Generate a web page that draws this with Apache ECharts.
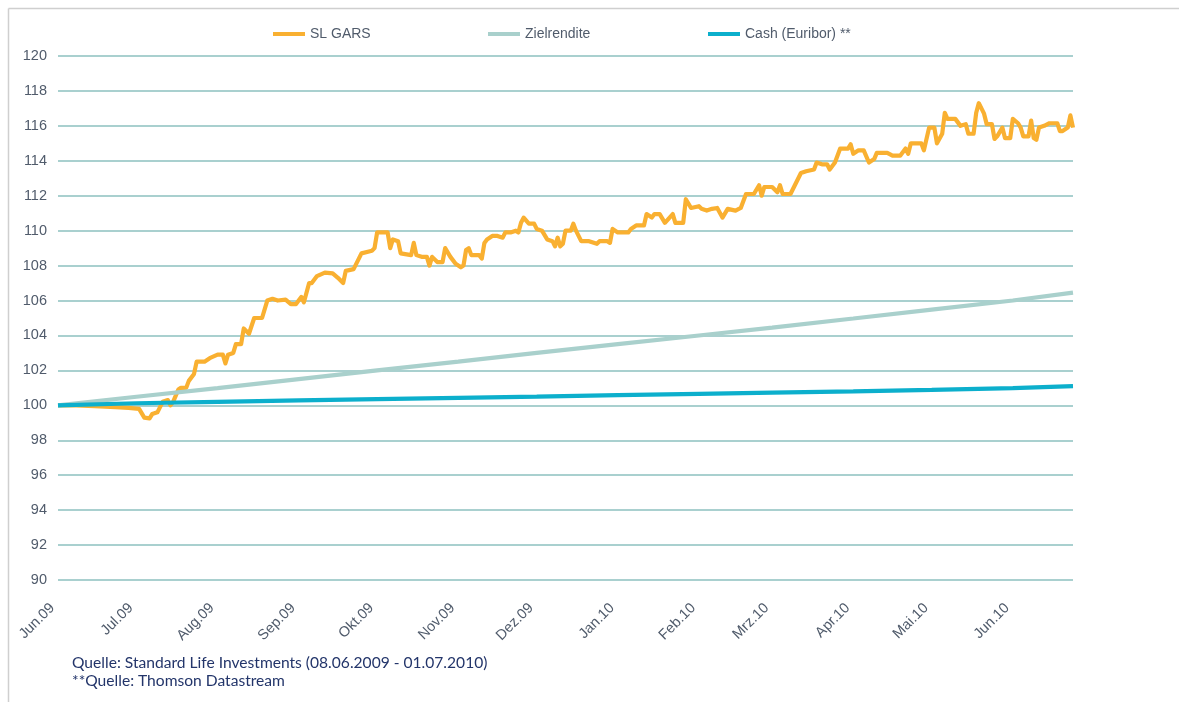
<!DOCTYPE html>
<html>
<head>
<meta charset="utf-8">
<title>SL GARS</title>
<script src="https://cdn.jsdelivr.net/npm/echarts@6/dist/echarts.min.js"></script>
<style>
  html, body { margin: 0; padding: 0; background: #ffffff; }
  #chart { width: 1179px; height: 702px; }
</style>
</head>
<body>
<div id="chart"></div>
<script>
// Indexentwicklung ab 08.06.2009 (=100)
const startDate = '2009-06-08';
const endDate = '2010-07-01';

// Achsenbeschriftung: jeweils am 8. des Monats
const monthTicks = ['2009-06-08','2009-07-08','2009-08-08','2009-09-08','2009-10-08','2009-11-08','2009-12-08',
  '2010-01-08','2010-02-08','2010-03-08','2010-04-08','2010-05-08','2010-06-08'];
const monthLabels = ['Jun.09','Jul.09','Aug.09','Sep.09','Okt.09','Nov.09','Dez.09',
  'Jan.10','Feb.10','Mrz.10','Apr.10','Mai.10','Jun.10'];

const yTicks = [90, 92, 94, 96, 98, 100, 102, 104, 106, 108, 110, 112, 114, 116, 118, 120];

const seriesNames = ['SL GARS', 'Zielrendite', 'Cash (Euribor) **'];

// SL GARS
const garsDates = [
  '2009-06-08','2009-06-15','2009-06-22','2009-06-30','2009-07-05','2009-07-09','2009-07-11','2009-07-13','2009-07-14','2009-07-16',
  '2009-07-18','2009-07-20','2009-07-21','2009-07-22','2009-07-24','2009-07-25','2009-07-27','2009-07-28','2009-07-30','2009-07-31',
  '2009-08-03','2009-08-05','2009-08-08','2009-08-10','2009-08-11','2009-08-12','2009-08-14','2009-08-15','2009-08-17','2009-08-18',
  '2009-08-20','2009-08-22','2009-08-25','2009-08-27','2009-08-29','2009-08-31','2009-09-03','2009-09-05','2009-09-07','2009-09-09',
  '2009-09-10','2009-09-12','2009-09-13','2009-09-15','2009-09-18','2009-09-21','2009-09-23','2009-09-25','2009-09-26','2009-09-29',
  '2009-10-02','2009-10-06','2009-10-07','2009-10-08','2009-10-12','2009-10-13','2009-10-14','2009-10-16','2009-10-17','2009-10-21',
  '2009-10-22','2009-10-23','2009-10-25','2009-10-27','2009-10-28','2009-10-29','2009-10-31','2009-11-02','2009-11-03','2009-11-05',
  '2009-11-07','2009-11-09','2009-11-10','2009-11-11','2009-11-12','2009-11-13','2009-11-16','2009-11-17','2009-11-18','2009-11-19',
  '2009-11-21','2009-11-23','2009-11-25','2009-11-26','2009-11-28','2009-11-30','2009-12-01','2009-12-02','2009-12-03','2009-12-05',
  '2009-12-07','2009-12-08','2009-12-10','2009-12-12','2009-12-14','2009-12-15','2009-12-16','2009-12-17','2009-12-18','2009-12-19',
  '2009-12-21','2009-12-22','2009-12-23','2009-12-25','2009-12-28','2009-12-31','2010-01-01','2010-01-04','2010-01-05','2010-01-06',
  '2010-01-08','2010-01-12','2010-01-13','2010-01-15','2010-01-18','2010-01-19','2010-01-21','2010-01-22','2010-01-24','2010-01-26',
  '2010-01-29','2010-01-30','2010-02-02','2010-02-03','2010-02-05','2010-02-08','2010-02-09','2010-02-11','2010-02-13','2010-02-15',
  '2010-02-17','2010-02-19','2010-02-22','2010-02-24','2010-02-26','2010-03-01','2010-03-03','2010-03-04','2010-03-05','2010-03-08',
  '2010-03-10','2010-03-11','2010-03-12','2010-03-15','2010-03-17','2010-03-19','2010-03-21','2010-03-24','2010-03-25','2010-03-27',
  '2010-03-29','2010-03-30','2010-04-01','2010-04-03','2010-04-06','2010-04-07','2010-04-08','2010-04-10','2010-04-12','2010-04-14',
  '2010-04-16','2010-04-17','2010-04-21','2010-04-23','2010-04-26','2010-04-28','2010-04-29','2010-04-30','2010-05-04','2010-05-05',
  '2010-05-07','2010-05-09','2010-05-10','2010-05-12','2010-05-13','2010-05-14','2010-05-17','2010-05-19','2010-05-21','2010-05-22',
  '2010-05-24','2010-05-25','2010-05-26','2010-05-28','2010-05-29','2010-05-31','2010-06-01','2010-06-02','2010-06-04','2010-06-05',
  '2010-06-07','2010-06-08','2010-06-10','2010-06-11','2010-06-12','2010-06-14','2010-06-15','2010-06-16','2010-06-17','2010-06-18',
  '2010-06-20','2010-06-22','2010-06-25','2010-06-26','2010-06-27','2010-06-29','2010-06-30','2010-07-01'
];
const garsValues = [
  100.0, 100.0, 99.95, 99.9, 99.85, 99.8, 99.3, 99.25, 99.5, 99.6,
  100.2, 100.3, 100.0, 100.2, 100.9, 101.0, 101.0, 101.4, 101.8, 102.5,
  102.5, 102.7, 102.9, 102.9, 102.4, 102.9, 103.0, 103.5, 103.5, 104.4,
  104.1, 105.0, 105.0, 106.0, 106.1, 106.0, 106.05, 105.8, 105.8, 106.2,
  105.9, 107.0, 107.0, 107.4, 107.6, 107.55, 107.3, 107.0, 107.7, 107.8,
  108.7, 108.85, 109.0, 109.9, 109.9, 109.0, 109.5, 109.4, 108.7, 108.6,
  109.3, 108.6, 108.5, 108.5, 108.0, 108.5, 108.2, 108.2, 109.0, 108.5,
  108.1, 107.9, 108.0, 108.9, 109.0, 108.6, 108.6, 108.4, 109.3, 109.5,
  109.7, 109.7, 109.6, 109.9, 109.9, 110.0, 109.9, 110.45, 110.75, 110.4,
  110.4, 110.1, 110.0, 109.5, 109.4, 109.1, 109.6, 109.1, 109.25, 110.0,
  110.0, 110.4, 110.0, 109.4, 109.4, 109.25, 109.4, 109.4, 109.3, 110.1,
  109.9, 109.9, 110.1, 110.3, 110.3, 110.95, 110.75, 110.95, 110.95, 110.45,
  110.95, 110.45, 110.45, 111.8, 111.3, 111.4, 111.25, 111.15, 111.25, 111.3,
  110.75, 111.25, 111.15, 111.3, 112.1, 112.1, 112.6, 112.0, 112.5, 112.5,
  112.2, 112.6, 112.1, 112.1, 112.7, 113.3, 113.4, 113.5, 113.9, 113.8,
  113.8, 113.5, 113.9, 114.7, 114.7, 114.95, 114.4, 114.6, 114.6, 113.9,
  114.1, 114.45, 114.45, 114.3, 114.3, 114.7, 114.4, 115.0, 115.0, 114.6,
  115.9, 115.9, 115.0, 115.55, 116.75, 116.4, 116.4, 116.0, 116.1, 115.55,
  115.55, 116.75, 117.3, 116.7, 116.1, 116.1, 115.25, 115.4, 115.9, 115.3,
  115.3, 116.4, 116.15, 115.9, 115.4, 115.4, 116.3, 115.3, 115.2, 115.9,
  116.0, 116.15, 116.15, 115.7, 115.7, 115.9, 116.6, 115.9
];

// Zielrendite und Cash (Euribor), Stichtage
const refDates = ['2009-06-08','2009-07-08','2009-08-08','2009-09-08','2009-10-08','2009-11-08','2009-12-08',
  '2010-01-08','2010-02-08','2010-03-08','2010-04-08','2010-05-08','2010-06-08','2010-07-01'];
const targetValues = [100.0, 100.49, 100.99, 101.5, 102.0, 102.5, 103.0, 103.5, 104.0, 104.45, 104.97, 105.48, 106.0, 106.45];
const cashValues = [100.0, 100.12, 100.2, 100.28, 100.35, 100.43, 100.5, 100.58, 100.66, 100.73, 100.8, 100.88, 100.98, 101.1];

const sourceLines = ['Quelle: Standard Life Investments (08.06.2009 - 01.07.2010)', '**Quelle: Thomson Datastream'];

// Tage seit Startdatum
function dayOf(s) {
  const p = s.split('-').map(Number);
  const q = startDate.split('-').map(Number);
  return Math.round((Date.UTC(p[0], p[1] - 1, p[2]) - Date.UTC(q[0], q[1] - 1, q[2])) / 86400000);
}
const zip = (dates, vals) => dates.map((d, i) => [dayOf(d), vals[i]]);
const tickDays = monthTicks.map(dayOf);

const colors = ['#f9b031', '#a9d0cc', '#0cafcc'];
const labelColor = '#505b6b';

const chart = echarts.init(document.getElementById('chart'), null, { renderer: 'canvas' });

function legendAt(left, name) {
  return {
    left: left, top: 22,
    data: [name],
    icon: 'rect',
    itemWidth: 32, itemHeight: 4,
    selectedMode: false,
    textStyle: { fontFamily: 'Liberation Sans, Arial, sans-serif', fontSize: 14, color: labelColor }
  };
}

chart.setOption({
  animation: false,
  backgroundColor: '#ffffff',
  color: colors,
  grid: { left: 58, right: 106, top: 56, bottom: 122, containLabel: false },
  legend: [legendAt(268, seriesNames[0]), legendAt(483, seriesNames[1]), legendAt(703, seriesNames[2])],
  xAxis: {
    type: 'value',
    min: 0,
    max: dayOf(endDate),
    axisLine: { show: false },
    axisTick: { show: false },
    splitLine: { show: false },
    axisLabel: {
      customValues: tickDays,
      formatter: v => monthLabels[tickDays.indexOf(v)] || '',
      rotate: 45,
      margin: 20,
      padding: [0, 8, 0, 0],
      fontFamily: 'Liberation Sans, Arial, sans-serif',
      fontSize: 14.5,
      color: labelColor
    }
  },
  yAxis: {
    type: 'value',
    min: yTicks[0],
    max: yTicks[yTicks.length - 1],
    interval: 2,
    axisLine: { show: false },
    axisTick: { show: false },
    splitLine: { lineStyle: { color: '#a9d0cf', width: 1.8 } },
    axisLabel: {
      margin: 11,
      fontFamily: 'Liberation Sans, Arial, sans-serif',
      fontSize: 14.5,
      color: labelColor
    }
  },
  series: [
    {
      name: seriesNames[0], type: 'line', data: zip(garsDates, garsValues),
      showSymbol: false, symbol: 'none',
      lineStyle: { width: 4.2, color: colors[0], join: 'round' }, z: 3
    },
    {
      name: seriesNames[1], type: 'line', data: zip(refDates, targetValues),
      showSymbol: false, symbol: 'none',
      lineStyle: { width: 4.2, color: colors[1] }, z: 4
    },
    {
      name: seriesNames[2], type: 'line', data: zip(refDates, cashValues),
      showSymbol: false, symbol: 'none',
      lineStyle: { width: 4.2, color: colors[2] }, z: 5
    }
  ],
  graphic: [
    { type: 'line', shape: { x1: 8.5, y1: 8.5, x2: 1179, y2: 8.5 }, style: { stroke: '#cfcfcf', lineWidth: 1.5 }, silent: true },
    { type: 'line', shape: { x1: 8.5, y1: 8.5, x2: 8.5, y2: 702 }, style: { stroke: '#cfcfcf', lineWidth: 1.5 }, silent: true },
    { type: 'text', left: 72, top: 654, silent: true,
      style: { text: sourceLines.join('\n'), fontFamily: 'Lato, Open Sans, sans-serif', fontSize: 15.6, lineHeight: 18, fill: '#23356a' } }
  ]
});
</script>
</body>
</html>
